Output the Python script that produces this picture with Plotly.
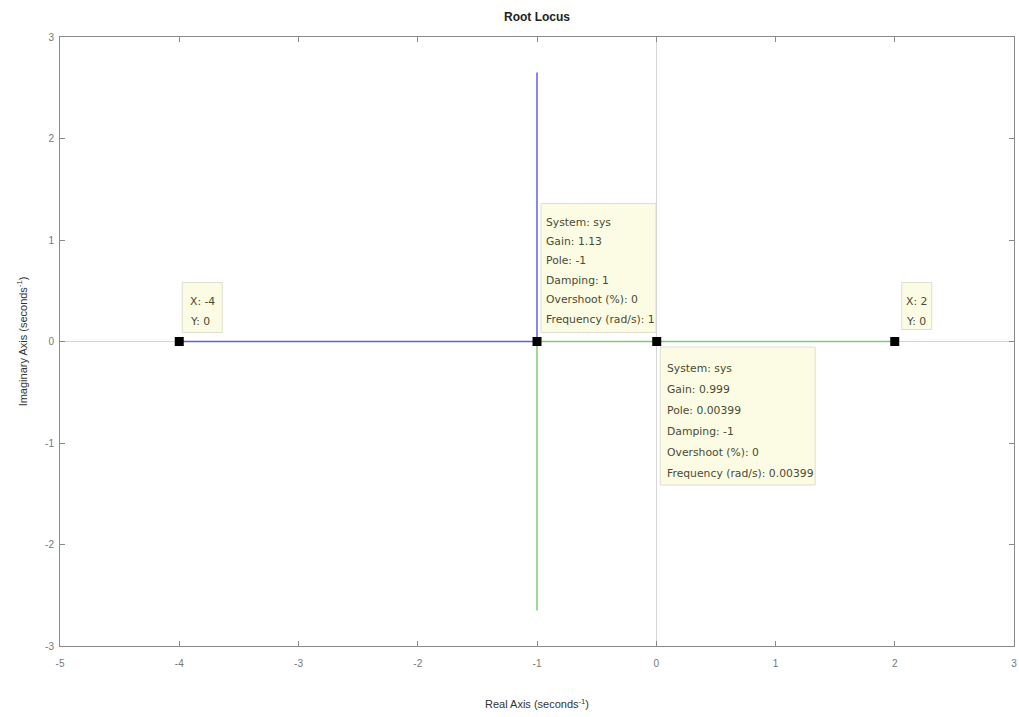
import plotly.graph_objects as go

# ---- data ----
branch1_x = [-4, -1, -1]
branch1_y = [0, 0, 2.65]
branch2_x = [2, -1, -1]
branch2_y = [0, 0, -2.65]

tip_x = [-4, -1, 0.00399, 2]
tip_y = [0, 0, 0, 0]
tip_texts = [
    ["X: -4", "Y: 0"],
    ["System: sys", "Gain: 1.13", "Pole: -1", "Damping: 1", "Overshoot (%): 0", "Frequency (rad/s): 1"],
    ["System: sys", "Gain: 0.999", "Pole: 0.00399", "Damping: -1", "Overshoot (%): 0", "Frequency (rad/s): 0.00399"],
    ["X: 2", "Y: 0"],
]

x_ticks = [-5, -4, -3, -2, -1, 0, 1, 2, 3]
y_ticks = [-3, -2, -1, 0, 1, 2, 3]

# ---- box layout (pixel offsets relative to each tip) ----
box_geom = [
    # x0, x1, y_top, y_bottom, text_dx, first_line_dy, line_step
    (3, 43, 59, 9, 10, 40.5, 20),
    (4, 119, 138, 9, 8, 119.5, 19.4),
    (3.5, 158.5, -5.5, -143.5, 9.5, -26.5, 21),
    (7, 37, 59, 12, 10, 40.5, 20),
]

fig = go.Figure()
fig.add_trace(go.Scatter(x=branch1_x, y=branch1_y, mode="lines",
                         line=dict(color="#6060e6", width=1.5), showlegend=False, hoverinfo="skip"))
fig.add_trace(go.Scatter(x=branch2_x, y=branch2_y, mode="lines",
                         line=dict(color="#7cca7c", width=1.5), showlegend=False, hoverinfo="skip"))

shapes = []
annotations = []
for (tx, ty, lines, g) in zip(tip_x, tip_y, tip_texts, box_geom):
    x0, x1, yt, yb, dx, dy0, step = g
    shapes.append(dict(type="rect", xref="x", yref="y", xsizemode="pixel", ysizemode="pixel",
                       xanchor=tx, yanchor=ty, x0=x0, x1=x1, y0=yb, y1=yt,
                       fillcolor="#fcfce4", line=dict(color="#deded0", width=1), layer="below"))
    for i, s in enumerate(lines):
        annotations.append(dict(x=tx, y=ty, xref="x", yref="y", text=s, showarrow=False,
                                xanchor="left", yanchor="middle", xshift=dx - 1, yshift=dy0 - i * step,
                                font=dict(family="DejaVu Sans", size=10.8, color="#4a4a33")))

fig.add_trace(go.Scatter(x=tip_x, y=tip_y, mode="markers",
                         marker=dict(symbol="square", size=9, color="black"),
                         showlegend=False, hoverinfo="skip"))

axis_common = dict(showgrid=False, zeroline=True, zerolinecolor="#d6d6d6", zerolinewidth=1,
                   showline=True, linecolor="#8a8a8a", linewidth=1, mirror="ticks",
                   ticks="inside", ticklen=5, tickcolor="#8a8a8a", automargin=False,
                   tickfont=dict(family="Liberation Sans, Arial", size=10, color="#777777"))

fig.update_layout(
    width=1019, height=717,
    margin=dict(l=60, r=5, t=37, b=71),
    paper_bgcolor="white", plot_bgcolor="white",
    title=dict(text="<b>Root Locus</b>", xref="paper", x=0.5, xanchor="center",
               yref="container", y=0.976, yanchor="middle",
               font=dict(family="Liberation Sans, Arial", size=12, color="#222222")),
    xaxis=dict(range=[-5, 3], tickvals=x_ticks, ticktext=[str(v) for v in x_ticks],
               ticklabelstandoff=8,
               title=dict(text="Real Axis (seconds<sup>-1</sup>)", standoff=32,
                          font=dict(family="Liberation Sans, Arial", size=11, color="#333333")),
               **axis_common),
    yaxis=dict(range=[-3, 3], tickvals=y_ticks, ticktext=[str(v) for v in y_ticks],
               ticklabelstandoff=3,
               title=dict(text="Imaginary Axis (seconds<sup>-1</sup>)", standoff=15,
                          font=dict(family="Liberation Sans, Arial", size=11, color="#333333")),
               **axis_common),
    shapes=shapes,
    annotations=annotations,
)

fig.write_html("out.html", config={"displayModeBar": False},
               post_script="document.body.style.margin='0';")
